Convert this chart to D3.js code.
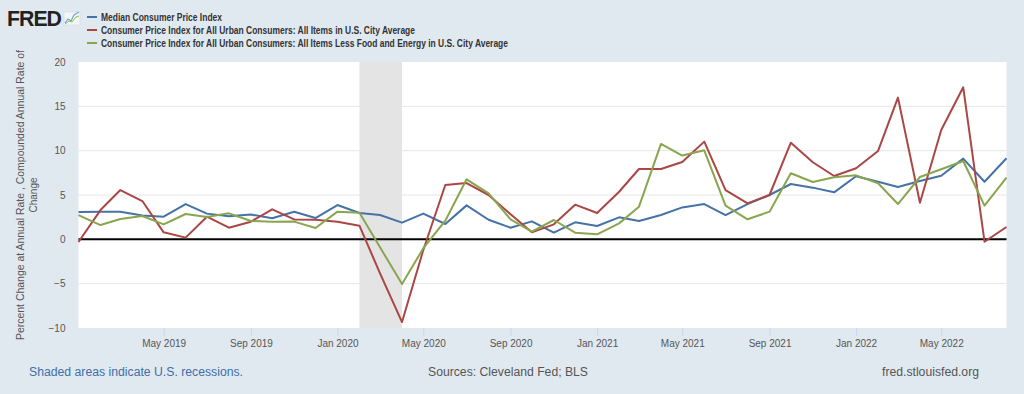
<!DOCTYPE html>
<html>
<head>
<meta charset="utf-8">
<script src="https://cdn.jsdelivr.net/npm/d3@7"></script>
<style>
html,body{margin:0;padding:0;background:#e1e9f0;}
svg{display:block;font-family:"Liberation Sans",Arial,Helvetica,sans-serif;}
</style>
</head>
<body>
<svg id="chart" width="1024" height="394"></svg>
<script>
const months = ["2019-01","2019-02","2019-03","2019-04","2019-05","2019-06","2019-07","2019-08","2019-09","2019-10","2019-11","2019-12",
"2020-01","2020-02","2020-03","2020-04","2020-05","2020-06","2020-07","2020-08","2020-09","2020-10","2020-11","2020-12",
"2021-01","2021-02","2021-03","2021-04","2021-05","2021-06","2021-07","2021-08","2021-09","2021-10","2021-11","2021-12",
"2022-01","2022-02","2022-03","2022-04","2022-05","2022-06","2022-07","2022-08"];

const medianCPI = [3.08,3.1,3.1,2.7,2.55,3.98,2.9,2.6,2.8,2.37,3.12,2.4,
3.87,2.97,2.74,1.88,2.9,1.73,3.83,2.21,1.31,2.03,0.75,1.92,
1.5,2.48,2.07,2.74,3.6,3.98,2.74,3.98,5.0,6.24,5.83,5.3,
7.11,6.5,5.9,6.58,7.18,9.1,6.5,9.14];

const cpiAll = [-0.3,3.3,5.56,4.32,0.79,0.19,2.55,1.31,1.99,3.38,2.25,2.21,
1.99,1.54,-3.84,-9.33,-1.2,6.13,6.35,5.0,2.82,0.79,1.69,3.91,
2.97,5.37,7.93,7.93,8.73,11.02,5.56,4.06,5.0,10.9,8.69,7.14,
8.01,9.97,15.98,4.13,12.34,17.15,-0.27,1.39];

const cpiCore = [2.74,1.61,2.29,2.63,1.69,2.86,2.52,2.93,2.07,1.99,2.0,1.28,
3.12,3.0,-0.9,-5.05,-1.0,2.1,6.77,5.19,2.26,0.86,2.18,0.75,
0.56,1.8,3.68,10.76,9.45,10.04,3.8,2.26,3.12,7.45,6.47,7.0,
7.22,6.32,3.98,7.03,7.9,8.84,3.8,6.95];

const seriesNames = ["Median Consumer Price Index",
"Consumer Price Index for All Urban Consumers: All Items in U.S. City Average",
"Consumer Price Index for All Urban Consumers: All Items Less Food and Energy in U.S. City Average"];
const seriesColors = ["#4572a7","#aa4643","#89a54e"];

const yTicks = [-10,-5,0,5,10,15,20];
const xTickDates = ["2019-05","2019-09","2020-01","2020-05","2020-09","2021-01","2021-05","2021-09","2022-01","2022-05"];
const recession = ["2020-02","2020-04"];

const parse = d3.timeParse("%Y-%m");
const dates = months.map(parse);

const svg = d3.select("#chart");
const L = 78.5, R = 1006.5, T = 62, B = 328;

const x = d3.scaleTime().domain([dates[0], dates[dates.length-1]]).range([L, R]);
const y = d3.scaleLinear().domain([-10, 20]).range([B, T]);

// plot background
svg.append("rect").attr("x", L).attr("y", T).attr("width", R - L).attr("height", B - T).attr("fill", "#ffffff");

// grid lines
svg.append("g").selectAll("line").data(yTicks.filter(v => v !== 0 && v !== -10 && v !== 20)).join("line")
  .attr("x1", L).attr("x2", R).attr("y1", d => y(d)).attr("y2", d => y(d))
  .attr("stroke", "#e6e6e6").attr("stroke-width", 1);

// recession shading
svg.append("rect")
  .attr("x", x(parse(recession[0]))).attr("y", T)
  .attr("width", x(parse(recession[1])) - x(parse(recession[0]))).attr("height", B - T)
  .attr("fill", "#e4e4e4");

// x axis ticks
const xAxis = d3.axisBottom(x).tickValues(xTickDates.map(parse)).tickFormat(d3.timeFormat("%b %Y")).tickSize(8).tickPadding(4);
const gx = svg.append("g").attr("transform", `translate(0,${B})`).call(xAxis);
gx.select(".domain").remove();
gx.selectAll(".tick line").attr("stroke", "#ccd6eb");
gx.selectAll(".tick text").attr("fill", "#555").attr("font-size", 10).attr("font-family", "Liberation Sans, Arial, sans-serif");

// y axis labels
const yAxis = d3.axisLeft(y).tickValues(yTicks).tickSize(0).tickPadding(13);
const gy = svg.append("g").attr("transform", `translate(${L},0)`).call(yAxis);
gy.select(".domain").remove();
gy.selectAll(".tick text").attr("fill", "#555").attr("font-size", 10).attr("font-family", "Liberation Sans, Arial, sans-serif");

// zero line
svg.append("line").attr("x1", L).attr("x2", R).attr("y1", y(0)).attr("y2", y(0)).attr("stroke", "#000").attr("stroke-width", 2);

// series lines
const allSeries = [medianCPI, cpiAll, cpiCore];
const line = d3.line().x((d, i) => x(dates[i])).y(d => y(d));
svg.append("g").selectAll("path").data(allSeries).join("path")
  .attr("d", d => line(d))
  .attr("fill", "none")
  .attr("stroke", (d, i) => seriesColors[i])
  .attr("stroke-width", 2)
  .attr("stroke-linejoin", "round");

// y axis title
const yt = svg.append("g").attr("transform", "translate(0,195) rotate(-90)");
yt.append("text").attr("x", 0).attr("y", 24).attr("text-anchor", "middle").attr("font-size", 10).attr("fill", "#555")
  .attr("textLength", 290).attr("lengthAdjust", "spacingAndGlyphs")
  .text("Percent Change at Annual Rate , Compounded Annual Rate of");
yt.append("text").attr("x", 0).attr("y", 37).attr("text-anchor", "middle").attr("font-size", 10).attr("fill", "#555")
  .text("Change");

// legend
const legendWidths = [121, 314, 407];
const lg = svg.append("g");
seriesNames.forEach((name, i) => {
  const cy = 17 + i * 13;
  lg.append("line").attr("x1", 87).attr("x2", 97).attr("y1", cy).attr("y2", cy).attr("stroke", seriesColors[i]).attr("stroke-width", 2);
  lg.append("text").attr("x", 101).attr("y", cy + 3.5).attr("font-size", 10).attr("font-weight", "bold").attr("fill", "#333")
    .attr("textLength", legendWidths[i]).attr("lengthAdjust", "spacingAndGlyphs").text(name);
});

// FRED logo
svg.append("text").attr("x", 7).attr("y", 26).attr("font-size", 22).attr("font-weight", "bold").attr("fill", "#222")
  .attr("textLength", 54).attr("lengthAdjust", "spacingAndGlyphs").attr("letter-spacing", -1).text("FRED");
svg.append("rect").attr("x", 64).attr("y", 12).attr("width", 16).attr("height", 13).attr("fill", "#f3f6f9").attr("stroke", "#c9d4de").attr("stroke-width", 0.5);
svg.append("polyline").attr("points", "65,23 68,19 71,21 74,15 79,12").attr("fill", "none").attr("stroke", "#6fa8dc").attr("stroke-width", 1.2);
svg.append("polyline").attr("points", "65,24 69,21 72,22 76,17 79,16").attr("fill", "none").attr("stroke", "#8bc34a").attr("stroke-width", 1);

// footer
svg.append("text").attr("x", 29).attr("y", 376).attr("font-size", 12).attr("fill", "#3e6ea8")
  .attr("textLength", 214).attr("lengthAdjust", "spacingAndGlyphs").text("Shaded areas indicate U.S. recessions.");
svg.append("text").attr("x", 428).attr("y", 376).attr("font-size", 12).attr("fill", "#555")
  .attr("textLength", 160).attr("lengthAdjust", "spacingAndGlyphs").text("Sources: Cleveland Fed; BLS");
svg.append("text").attr("x", 882).attr("y", 376).attr("font-size", 12).attr("fill", "#555")
  .attr("textLength", 97).attr("lengthAdjust", "spacingAndGlyphs").text("fred.stlouisfed.org");
</script>
</body>
</html>
